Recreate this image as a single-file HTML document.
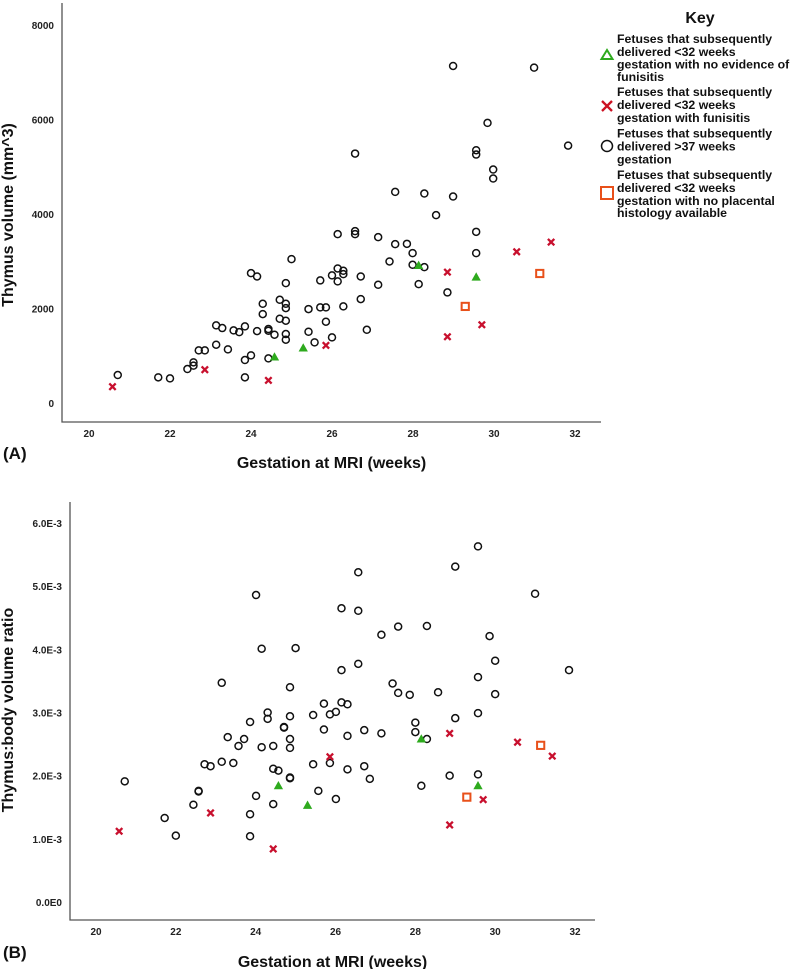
<!DOCTYPE html>
<html><head><meta charset="utf-8">
<style>
html,body{margin:0;padding:0;background:#fff;}
svg{display:block;font-family:"Liberation Sans",sans-serif;}
.tick{font-size:10px;font-weight:bold;fill:#222;}
.title{font-size:16px;font-weight:bold;fill:#111;}
.leg{font-size:12.3px;font-weight:bold;fill:#111;}
</style></head>
<body>
<svg id="chart" width="800" height="969" viewBox="0 0 800 969" xmlns="http://www.w3.org/2000/svg">
<g id="pa"></g>
<g id="pb"></g>
<g id="legend">
<text x="700" y="23" text-anchor="middle" style="font-size:16px;font-weight:bold" fill="#111">Key</text>
<g>
<polygon points="607,50 601.5,59 612.5,59" fill="none" stroke="#2eaa1e" stroke-width="2"/>
<text class="leg" x="617" y="43">Fetuses that subsequently</text>
<text class="leg" x="617" y="56">delivered &lt;32 weeks</text>
<text class="leg" x="617" y="68.5">gestation with no evidence of</text>
<text class="leg" x="617" y="81">funisitis</text>
</g>
<g>
<path d="M602,101 L612,111 M612,101 L602,111" stroke="#cc1122" stroke-width="2.3"/>
<text class="leg" x="617" y="96">Fetuses that subsequently</text>
<text class="leg" x="617" y="109">delivered &lt;32 weeks</text>
<text class="leg" x="617" y="122">gestation with funisitis</text>
</g>
<g>
<circle cx="607" cy="146" r="5.5" fill="none" stroke="#111" stroke-width="1.5"/>
<text class="leg" x="617" y="137.5">Fetuses that subsequently</text>
<text class="leg" x="617" y="150.5">delivered &gt;37 weeks</text>
<text class="leg" x="617" y="163.5">gestation</text>
</g>
<g>
<rect x="601" y="187" width="12" height="12" fill="none" stroke="#e8501a" stroke-width="2"/>
<text class="leg" x="617" y="179">Fetuses that subsequently</text>
<text class="leg" x="617" y="192">delivered &lt;32 weeks</text>
<text class="leg" x="617" y="205">gestation with no placental</text>
<text class="leg" x="617" y="217">histology available</text>
</g>
</g>
</svg>
<script>
// Panel A data: gestation (weeks), thymus volume (mm^3)
const xTicks = [20,22,24,26,28,30,32];
const aYTicks = [0,2000,4000,6000,8000];
const aYTickLabels = ["0","2000","4000","6000","8000"];
const aTermX = [20.71,21.71,22.0,22.43,22.58,22.58,22.71,22.86,23.14,23.14,23.29,23.43,23.57,23.71,23.85,23.85,23.85,24.0,24.0,24.15,24.15,24.29,24.29,24.43,24.43,24.43,24.58,24.71,24.71,24.86,24.86,24.86,24.86,24.86,24.86,25.0,25.42,25.42,25.57,25.71,25.71,25.85,25.85,26.0,26.0,26.14,26.14,26.14,26.28,26.28,26.28,26.57,26.57,26.57,26.71,26.71,26.86,27.14,27.14,27.42,27.56,27.56,27.85,27.99,27.99,28.14,28.28,28.28,28.57,28.85,28.99,28.99,29.56,29.56,29.56,29.56,29.84,29.98,29.98,30.99,31.83];
const aTermY = [592,543,521,719,860,790,1113,1113,1642,1233,1586,1135,1536,1500,1621,909,543,1008,2748,2678,1522,2100,1882,1565,1530,944,1445,2185,1783,2537,2100,2009,1741,1459,1339,3045,1988,1508,1283,2594,2023,2023,1720,2700,1388,3573,2847,2573,2798,2727,2044,5279,3637,3573,2678,2199,1550,3510,2502,2995,4468,3362,3369,3172,2925,2516,4433,2875,3975,2340,7133,4370,5350,5258,3623,3172,5928,4941,4751,7098,5448];
const aGreenX = [24.58,25.29,28.14,29.56];
const aGreenY = [973,1163,2911,2664];
const aRedX = [20.58,22.86,24.43,25.85,28.85,28.85,29.70,30.56,31.41];
const aRedY = [345,705,479,1219,2770,1402,1656,3200,3404];
const aOrangeX = [29.29,31.13];
const aOrangeY = [2044,2741];
// Panel B data: gestation (weeks), thymus:body ratio (x1e-3)
const bYTicks = [0,1,2,3,4,5,6];
const bYTickLabels = ["0.0E0","1.0E-3","2.0E-3","3.0E-3","4.0E-3","5.0E-3","6.0E-3"];
const bTermX = [20.72,21.72,22.0,22.44,22.57,22.57,22.72,22.87,23.15,23.15,23.30,23.44,23.57,23.71,23.86,23.86,23.86,24.01,24.01,24.15,24.15,24.30,24.30,24.44,24.44,24.44,24.57,24.71,24.71,24.86,24.86,24.86,24.86,24.86,24.86,25.0,25.44,25.44,25.57,25.71,25.71,25.86,25.86,26.01,26.01,26.15,26.15,26.15,26.30,26.30,26.30,26.57,26.57,26.57,26.72,26.72,26.86,27.15,27.15,27.43,27.57,27.57,27.86,28.0,28.0,28.15,28.29,28.29,28.57,28.86,29.0,29.0,29.57,29.57,29.57,29.57,29.86,30.0,30.0,31.0,31.85];
const bTermY = [1.91,1.33,1.05,1.54,1.76,1.75,2.18,2.15,3.47,2.22,2.61,2.20,2.47,2.58,2.85,1.39,1.04,4.86,1.68,4.01,2.45,3.00,2.90,2.47,2.11,1.55,2.08,2.77,2.76,3.40,2.94,2.58,2.44,1.97,1.96,4.02,2.96,2.18,1.76,3.14,2.73,2.97,2.20,3.01,1.63,4.65,3.67,3.16,3.13,2.63,2.10,5.22,4.61,3.77,2.72,2.15,1.95,4.23,2.67,3.46,4.36,3.31,3.28,2.84,2.69,1.84,4.37,2.58,3.32,2.00,5.31,2.91,5.63,3.56,2.99,2.02,4.21,3.82,3.29,4.88,3.67];
const bGreenX = [24.57,25.30,28.15,29.57];
const bGreenY = [1.84,1.53,2.58,1.84];
const bRedX = [20.58,22.87,24.44,25.86,28.86,28.86,29.70,30.56,31.43];
const bRedY = [1.12,1.41,0.84,2.30,2.67,1.22,1.62,2.53,2.31];
const bOrangeX = [29.29,31.14];
const bOrangeY = [1.66,2.48];

const NS = "http://www.w3.org/2000/svg";
function mk(parent, tag, attrs){ const e=document.createElementNS(NS,tag); for(const k in attrs) e.setAttribute(k,attrs[k]); parent.appendChild(e); return e; }

function panel(g, cfg){
  const sx = v => cfg.x0 + (v - 20) * (cfg.x1 - cfg.x0) / 12;
  const sy = v => cfg.y0 - (v - cfg.ymin) * (cfg.y0 - cfg.y1) / (cfg.ymax - cfg.ymin);
  const ax = mk(g,'path',{d:`M${cfg.axX},${cfg.top} L${cfg.axX},${cfg.axY} L${cfg.right},${cfg.axY}`,fill:'none',stroke:'#555','stroke-width':1.3});
  
  
  xTicks.forEach(t=>{
    const tx = mk(g,'text',{x:sx(t),y:cfg.axY+15,'text-anchor':'middle',class:'tick'});
    tx.textContent = t;
    
    
  });
  cfg.yt.forEach((t,i)=>{
    const ty = mk(g,'text',{x:cfg.axX-8,y:sy(t)+4,'text-anchor':'end',class:'tick'});
    ty.textContent = cfg.ytl[i];
    
    
  });
  const xt = mk(g,'text',{x:(cfg.axX+cfg.right)/2,y:cfg.xTitleY,'text-anchor':'middle',class:'title'});
  xt.textContent = 'Gestation at MRI (weeks)';
  
  
  const yc = cfg.yTitleC;
  const yt = mk(g,'text',{x:0,y:0,'text-anchor':'middle',class:'title',transform:`translate(13,${yc}) rotate(-90)`});
  yt.textContent = cfg.ytitle;
  
  
  const pl = mk(g,'text',{x:3,y:cfg.labelY,style:'font-size:17px;font-weight:bold',fill:'#111'});
  pl.textContent = cfg.label;
  
  
  cfg.tx.forEach((v,i)=>{
    const c = mk(g,'circle',{cx:sx(v),cy:sy(cfg.ty[i]),r:3.5,fill:'none',stroke:'#111','stroke-width':1.5});
    
    
  });
  cfg.gx.forEach((v,i)=>{
    const x=sx(v), y=sy(cfg.gy[i]);
    const p = mk(g,'polygon',{points:`${x},${y-3.8} ${x-3.8},${y+3} ${x+3.8},${y+3}`,fill:'#2eaa1e',stroke:'#2eaa1e','stroke-width':1});
    
    
  });
  cfg.rx.forEach((v,i)=>{
    const x=sx(v), y=sy(cfg.ry[i]);
    const p = mk(g,'path',{d:`M${x-3.2},${y-3.2} L${x+3.2},${y+3.2} M${x+3.2},${y-3.2} L${x-3.2},${y+3.2}`,stroke:'#c8102e','stroke-width':2.3});
    
    
  });
  cfg.ox.forEach((v,i)=>{
    const x=sx(v), y=sy(cfg.oy[i]);
    const p = mk(g,'rect',{x:x-3.6,y:y-3.6,width:7.2,height:7.2,fill:'none',stroke:'#e8501a','stroke-width':2});
    
    
  });
}
panel(document.getElementById('pa'),{x0:89,x1:575,ymin:0,ymax:8000,y0:403,y1:25,axX:62,axY:422,top:3,right:601,
  yt:aYTicks,ytl:aYTickLabels,xTitleY:468,yTitleC:215,ytitle:'Thymus volume (mm^3)',label:'(A)',labelY:459,
  tx:aTermX,ty:aTermY,gx:aGreenX,gy:aGreenY,rx:aRedX,ry:aRedY,ox:aOrangeX,oy:aOrangeY});
panel(document.getElementById('pb'),{x0:96,x1:575,ymin:0,ymax:6,y0:902,y1:523,axX:70,axY:920,top:502,right:595,
  yt:bYTicks,ytl:bYTickLabels,xTitleY:967,yTitleC:710,ytitle:'Thymus:body volume ratio',label:'(B)',labelY:958,
  tx:bTermX,ty:bTermY,gx:bGreenX,gy:bGreenY,rx:bRedX,ry:bRedY,ox:bOrangeX,oy:bOrangeY});
</script>
</body></html>
